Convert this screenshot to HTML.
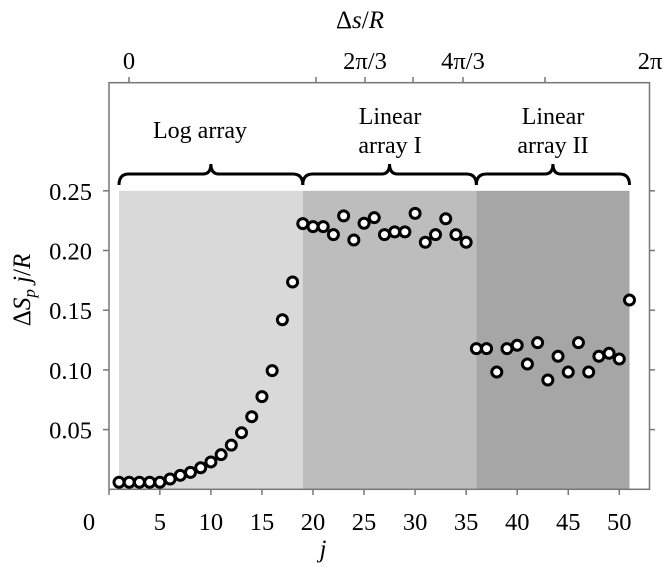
<!DOCTYPE html>
<html><head><meta charset="utf-8"><style>
body{margin:0;background:#fff;position:relative}
svg text{font-family:"Liberation Serif",serif;fill:#000}
</style></head><body>
<svg id="chart" width="665" height="567" viewBox="0 0 665 567" style="position:absolute;left:0;top:0">
<g id="regions"></g>
<g id="axes"></g>
<g id="points"></g>
</svg>
<script>
const jValues=[1,2,3,4,5,6,7,8,9,10,11,12,13,14,15,16,17,18,19,20,21,22,23,24,25,26,27,28,29,30,31,32,33,34,35,36,37,38,39,40,41,42,43,44,45,46,47,48,49,50,51];
const sValues=[0.0059,0.0059,0.0059,0.0059,0.0059,0.0086,0.0117,0.0142,0.018,0.0229,0.029,0.037,0.0474,0.0608,0.0776,0.0994,0.142,0.1736,0.2225,0.22,0.22,0.2133,0.229,0.2088,0.2228,0.2275,0.2133,0.2156,0.2156,0.2311,0.2069,0.2133,0.2266,0.2133,0.2069,0.1178,0.1178,0.0982,0.1178,0.1206,0.1049,0.1228,0.0915,0.1114,0.0982,0.1228,0.0982,0.1114,0.1139,0.1091,0.1585];
const xTicks=[5,10,15,20,25,30,35,40,45,50];
const yTicks=[0.05,0.10,0.15,0.20,0.25];
const yTickLabels=["0.05","0.10","0.15","0.20","0.25"];
const regionStarts=[1,19,36];
const regionEnds=[19,36,51];
const regionNames=["log-array","linear-array-i","linear-array-ii"];
const regionColors=["#d9d9d9","#bdbdbd","#a6a6a6"];
const topTickPx=[129,316,365,413,463,545];

const X=j=>108.8+10.21*j;
const Y=v=>489.3-1194*v;
const NS="http://www.w3.org/2000/svg";
function mk(tag,attrs,parent,text){const e=document.createElementNS(NS,tag);for(const k in attrs)e.setAttribute(k,attrs[k]);if(text!==undefined)e.textContent=text;parent.appendChild(e);return e;}
const gR=document.getElementById('regions'),gA=document.getElementById('axes'),gP=document.getElementById('points');

for(let i=0;i<regionStarts.length;i++){
 const r=mk('rect',{x:X(regionStarts[i]),y:Y(0.25),width:X(regionEnds[i])-X(regionStarts[i]),height:Y(0)-Y(0.25),fill:regionColors[i]},gR);
 
 
 const x1=X(regionStarts[i]),x2=X(regionEnds[i]),xm=(x1+x2)/2;
 const b=mk('path',{d:`M${x1} 185 Q${x1} 174 ${x1+10} 174 L${xm-8} 174 Q${xm} 174 ${xm} 164 Q${xm} 174 ${xm+8} 174 L${x2-10} 174 Q${x2} 174 ${x2} 185`,fill:'none',stroke:'#000','stroke-width':3},gR);
 
 
}
const box=mk('rect',{x:109,y:82.7,width:540.5,height:406.6,fill:'none',stroke:'#777','stroke-width':1.5},gA);


mk('line',{x1:109,x2:109,y1:489.3,y2:495,stroke:'#777','stroke-width':1.5},gA);
xTicks.forEach(t=>{
 mk('line',{x1:X(t),x2:X(t),y1:489.3,y2:495,stroke:'#777','stroke-width':1.5},gA);
 const tl=mk('text',{x:X(t),y:530,'font-size':24.5,'text-anchor':'middle'},gA,String(t));
 
 
});
const z=mk('text',{x:89,y:530,'font-size':24.5,'text-anchor':'middle'},gA,'0');


yTicks.forEach((t,i)=>{
 mk('line',{x1:103,x2:109,y1:Y(t),y2:Y(t),stroke:'#777','stroke-width':1.5},gA);
 mk('line',{x1:649.5,x2:655,y1:Y(t),y2:Y(t),stroke:'#777','stroke-width':1.5},gA);
 const tl=mk('text',{x:92,y:Y(t)+9,'font-size':24.5,'text-anchor':'end'},gA,yTickLabels[i]);
 
 
});
topTickPx.forEach(p=>mk('line',{x1:p,x2:p,y1:77,y2:82.7,stroke:'#777','stroke-width':1.5},gA));
[["0",129],["2π/3",365],["4π/3",463],["2π",650]].forEach(([s,p])=>{
 const tl=mk('text',{x:p,y:69,'font-size':24.5,'text-anchor':'middle'},gA,s);
 
 
});
for(let i=0;i<jValues.length;i++){
 const c=mk('circle',{cx:X(jValues[i]),cy:Y(sValues[i]),r:5,fill:'#fff',stroke:'#000','stroke-width':3},gP);
 
 
}
</script>
<svg width="665" height="567" style="position:absolute;left:0;top:0">
<text x="200" y="138" font-size="24" text-anchor="middle" style="font-family:'Liberation Serif',serif">Log array</text>
<text x="390" y="124" font-size="24" text-anchor="middle" style="font-family:'Liberation Serif',serif"><tspan x="390">Linear</tspan><tspan x="390" dy="29">array I</tspan></text>
<text x="553" y="124" font-size="24" text-anchor="middle" style="font-family:'Liberation Serif',serif"><tspan x="553">Linear</tspan><tspan x="553" dy="29">array II</tspan></text>
<text x="360" y="28" font-size="25" text-anchor="middle" style="font-family:'Liberation Serif',serif">Δ<tspan font-style="italic">s</tspan>/<tspan font-style="italic">R</tspan></text>
<text x="323" y="557" font-size="25" text-anchor="middle" font-style="italic" style="font-family:'Liberation Serif',serif">j</text>
<text transform="translate(30,290) rotate(-90)" font-size="25" text-anchor="middle" style="font-family:'Liberation Serif',serif">Δ<tspan font-style="italic">S</tspan><tspan font-style="italic" font-size="17" dy="5">p</tspan><tspan font-style="italic" dy="-5"> j</tspan>/<tspan font-style="italic">R</tspan></text>
</svg>
</body></html>
